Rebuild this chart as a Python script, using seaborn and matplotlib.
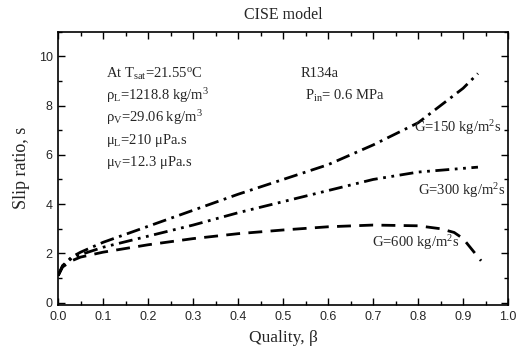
import numpy as np
import pandas as pd
import matplotlib
matplotlib.use("Agg")
import matplotlib.pyplot as plt
from matplotlib.ticker import MultipleLocator
import seaborn as sns

# Data
x150 = [0.0, 0.01, 0.03, 0.05, 0.1, 0.2, 0.3, 0.4, 0.5, 0.6, 0.7, 0.8, 0.9, 0.933]
y150 = [1.1, 1.5, 1.85, 2.05, 2.45, 3.1, 3.75, 4.4, 5.0, 5.6, 6.4, 7.3, 8.7, 9.3]
x300 = [0.0, 0.01, 0.03, 0.05, 0.1, 0.2, 0.3, 0.4, 0.5, 0.6, 0.7, 0.8, 0.9, 0.933]
y300 = [1.1, 1.5, 1.8, 1.95, 2.25, 2.7, 3.15, 3.65, 4.1, 4.55, 5.0, 5.3, 5.45, 5.5]
x600 = [0.0, 0.01, 0.03, 0.05, 0.1, 0.2, 0.3, 0.4, 0.5, 0.6, 0.7, 0.8, 0.85, 0.88, 0.9, 0.92, 0.94]
y600 = [1.1, 1.45, 1.7, 1.85, 2.05, 2.35, 2.6, 2.8, 2.95, 3.08, 3.15, 3.12, 3.0, 2.85, 2.6, 2.15, 1.7]
series = ["G=150", "G=300", "G=600"]
x_ticks = [0.0, 0.1, 0.2, 0.3, 0.4, 0.5, 0.6, 0.7, 0.8, 0.9, 1.0]
y_ticks = [0, 2, 4, 6, 8, 10]

df = pd.concat([
    pd.DataFrame({"x": x150, "y": y150, "G": series[0]}),
    pd.DataFrame({"x": x300, "y": y300, "G": series[1]}),
    pd.DataFrame({"x": x600, "y": y600, "G": series[2]}),
], ignore_index=True)

sns.set_style("ticks")
plt.rcParams["font.family"] = ["Liberation Serif", "DejaVu Serif"]
plt.rcParams["mathtext.fontset"] = "custom"
plt.rcParams["mathtext.rm"] = "Liberation Serif"
plt.rcParams["mathtext.it"] = "Liberation Serif:italic"
plt.rcParams["mathtext.bf"] = "Liberation Serif:bold"

fig = plt.figure(figsize=(5.19, 3.59), dpi=100)
ax = fig.add_axes([0.112, 0.150, 0.867, 0.762])

sns.lineplot(data=df, x="x", y="y", hue="G", style="G",
             palette={s: "black" for s in series},
             dashes={"G=150": (5, 2, 1, 2), "G=300": (5, 2, 1, 2, 1, 2), "G=600": (5, 3)},
             linewidth=2, legend=False, ax=ax, sort=False, estimator=None)

ax.set_xlim(0, 1.0)
ax.set_ylim(-0.1, 11)
ax.set_xticks(x_ticks)
ax.set_xticklabels([f"{v:.1f}" for v in x_ticks], family="Liberation Sans", fontsize=9)
ax.set_yticks(y_ticks)
ax.set_yticklabels([str(v) for v in y_ticks], family="Liberation Sans", fontsize=9)
ax.xaxis.set_minor_locator(MultipleLocator(0.05))
ax.yaxis.set_minor_locator(MultipleLocator(1))
ax.tick_params(which="both", direction="in", top=True, right=True, color="black", width=1, pad=4)
ax.tick_params(which="major", length=5)
ax.tick_params(which="minor", length=3)
for sp in ax.spines.values():
    sp.set_color("black")
    sp.set_linewidth(1.2)

ax.set_xlabel("Quality, β", fontsize=12.5, labelpad=5)
ax.set_ylabel("Slip ratio, s", fontsize=13, labelpad=6)
ax.set_title("CISE model", fontsize=11.5, pad=9)

fs = 10.5
ax.text(0.107, 9.3, r"At T$_{\rm sat}$=21.55$^{\rm o}$C", fontsize=fs, va="center")
ax.text(0.107, 8.4, r"ρ$_{\rm L}$=1218.8 kg/m$^{3}$", fontsize=fs, va="center")
ax.text(0.107, 7.5, r"ρ$_{\rm V}$=29.06 kg/m$^{3}$", fontsize=fs, va="center")
ax.text(0.107, 6.6, r"μ$_{\rm L}$=210 μPa.s", fontsize=fs, va="center")
ax.text(0.107, 5.7, r"μ$_{\rm V}$=12.3 μPa.s", fontsize=fs, va="center")
ax.text(0.538, 9.3, "R134a", fontsize=fs, va="center")
ax.text(0.549, 8.4, r"P$_{\rm in}$= 0.6 MPa", fontsize=fs, va="center")
ax.text(0.791, 7.1, r"G=150 kg/m$^{2}$s", fontsize=10.5, va="center")
ax.text(0.80, 4.53, r"G=300 kg/m$^{2}$s", fontsize=10.5, va="center")
ax.text(0.698, 2.45, r"G=600 kg/m$^{2}$s", fontsize=10.5, va="center")

fig.savefig("out.png", dpi=100)
